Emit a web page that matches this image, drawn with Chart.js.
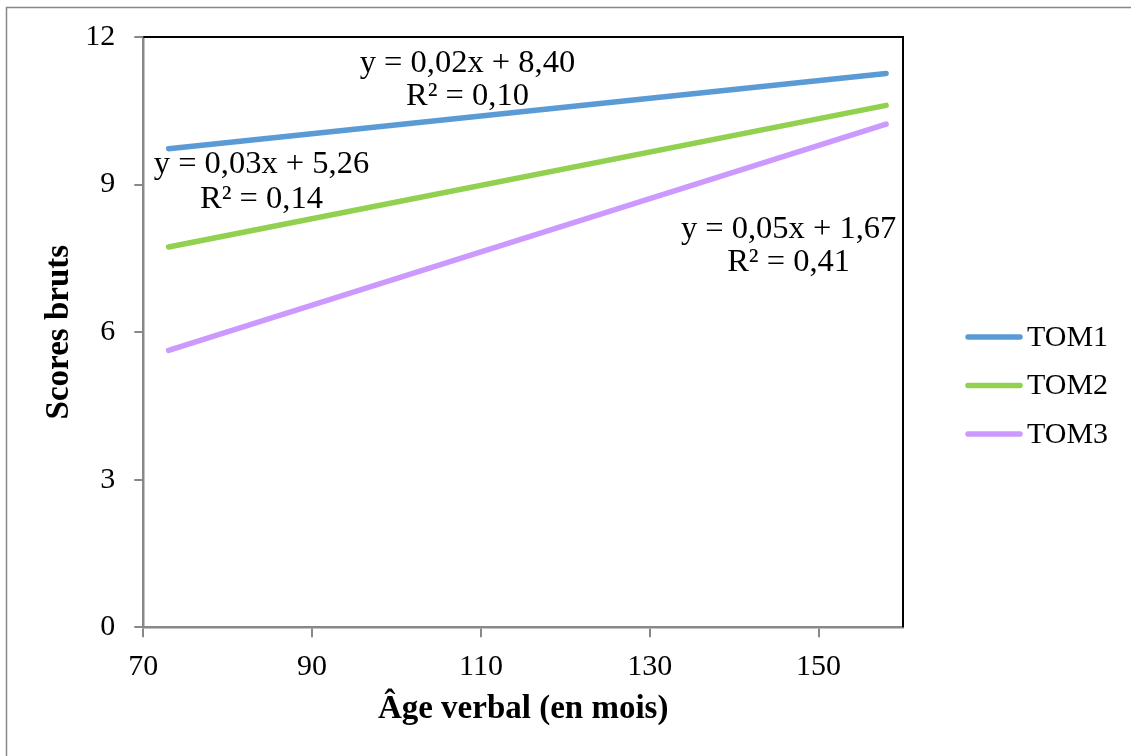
<!DOCTYPE html>
<html>
<head>
<meta charset="utf-8">
<script src="https://cdn.jsdelivr.net/npm/chart.js@4.4.1/dist/chart.umd.min.js"></script>
<style>
  html, body { margin: 0; padding: 0; background: #ffffff; }
  #wrap { position: relative; width: 1131px; height: 756px; }
</style>
</head>
<body>
<div id="wrap"><canvas id="c" width="1131" height="756"></canvas></div>
<script>
// ---- data ----
const seriesNames = ['TOM1', 'TOM2', 'TOM3'];
const ageVerbal = [73, 158];
const tom1 = [9.73, 11.26];
const tom2 = [7.73, 10.61];
const tom3 = [5.63, 10.23];
const xTicks = [70, 90, 110, 130, 150];
const yTicks = [0, 3, 6, 9, 12];
const equations = ['y = 0,02x + 8,40', 'y = 0,03x + 5,26', 'y = 0,05x + 1,67'];
const rSquared = ['R² = 0,10', 'R² = 0,14', 'R² = 0,41'];
// label anchors (data units): [x, y of equation line, y of R² line]
const labelX = [108.4, 84.0, 146.45];
const labelEqY = [11.47, 9.40, 8.08];
const labelR2Y = [10.79, 8.69, 7.41];

const colors = ['#5B9BD5', '#92D050', '#CC99FF'];
const FONT = '"Liberation Serif", "Times New Roman", serif';
const allSeries = [tom1, tom2, tom3];

const datasets = seriesNames.map((n, i) => ({
  label: n,
  data: ageVerbal.map((x, j) => ({ x: x, y: allSeries[i][j] })),
  borderColor: colors[i],
  backgroundColor: colors[i],
  borderWidth: 5.5,
  borderCapStyle: 'round',
  pointRadius: 0,
  pointHoverRadius: 0,
  fill: false,
  tension: 0
}));

const decorPlugin = {
  id: 'decor',
  beforeDraw(chart) {
    const ctx = chart.ctx;
    ctx.save();
    ctx.fillStyle = '#ffffff';
    ctx.fillRect(0, 0, chart.width, chart.height);
    ctx.strokeStyle = '#888888';
    ctx.lineWidth = 1.5;
    ctx.strokeRect(6.5, 7.5, 1200, 800);
    ctx.restore();
  },
  afterDatasetsDraw(chart) {
    const ctx = chart.ctx;
    const a = chart.chartArea;
    const xs = chart.scales.x, ys = chart.scales.y;
    ctx.save();
    // top and right plot border
    ctx.strokeStyle = '#000000';
    ctx.lineWidth = 2;
    ctx.beginPath();
    ctx.moveTo(a.left, a.top);
    ctx.lineTo(a.right, a.top);
    ctx.lineTo(a.right, a.bottom);
    ctx.stroke();
    // trendline labels
    ctx.fillStyle = '#000000';
    ctx.font = '32.5px ' + FONT;
    ctx.textAlign = 'center';
    ctx.textBaseline = 'middle';
    for (let i = 0; i < equations.length; i++) {
      const px = xs.getPixelForValue(labelX[i]);
      ctx.fillText(equations[i], px, ys.getPixelForValue(labelEqY[i]));
      ctx.fillText(rSquared[i], px, ys.getPixelForValue(labelR2Y[i]));
    }
    // legend
    ctx.font = '30px ' + FONT;
    ctx.textAlign = 'left';
    ctx.lineCap = 'round';
    ctx.lineWidth = 5.5;
    const lx0 = 968, lx1 = 1020, ly0 = 337, dy = 48.5;
    for (let i = 0; i < seriesNames.length; i++) {
      const y = ly0 + i * dy;
      ctx.strokeStyle = colors[i];
      ctx.beginPath();
      ctx.moveTo(lx0, y);
      ctx.lineTo(lx1, y);
      ctx.stroke();
      ctx.fillText(seriesNames[i], 1027, y + 1);
    }
    ctx.restore();
  }
};

new Chart(document.getElementById('c'), {
  type: 'line',
  data: { datasets: datasets },
  options: {
    responsive: false,
    animation: false,
    events: [],
    layout: { padding: { top: 37, right: 228, bottom: 0, left: 0 } },
    plugins: { legend: { display: false }, tooltip: { enabled: false } },
    scales: {
      x: {
        type: 'linear',
        min: 70,
        max: 160,
        afterBuildTicks: s => { s.ticks = xTicks.map(v => ({ value: v })); },
        afterFit: s => { s.height = 128.7; },
        grid: { display: true, drawOnChartArea: false, drawTicks: true, tickLength: 10, color: '#888888', lineWidth: 2 },
        border: { display: true, color: '#888888', width: 2.5 },
        ticks: { color: '#000000', font: { family: FONT, size: 30 }, padding: 12, maxRotation: 0 },
        title: { display: true, text: 'Âge verbal (en mois)', color: '#000000', font: { family: FONT, size: 33, weight: 'bold' }, padding: { top: 27, bottom: 27 } }
      },
      y: {
        type: 'linear',
        min: 0,
        max: 12,
        afterBuildTicks: s => { s.ticks = yTicks.map(v => ({ value: v })); },
        afterFit: s => { s.width = 143.3; },
        grid: { display: true, drawOnChartArea: false, drawTicks: true, tickLength: 9, color: '#888888', lineWidth: 2 },
        border: { display: true, color: '#888888', width: 2.5 },
        ticks: { color: '#000000', font: { family: FONT, size: 30 }, padding: 19 },
        title: { display: true, text: 'Scores bruts', color: '#000000', font: { family: FONT, size: 33, weight: 'bold' }, padding: { top: 40, bottom: 40 } }
      }
    }
  },
  plugins: [decorPlugin]
});
</script>
</body>
</html>
